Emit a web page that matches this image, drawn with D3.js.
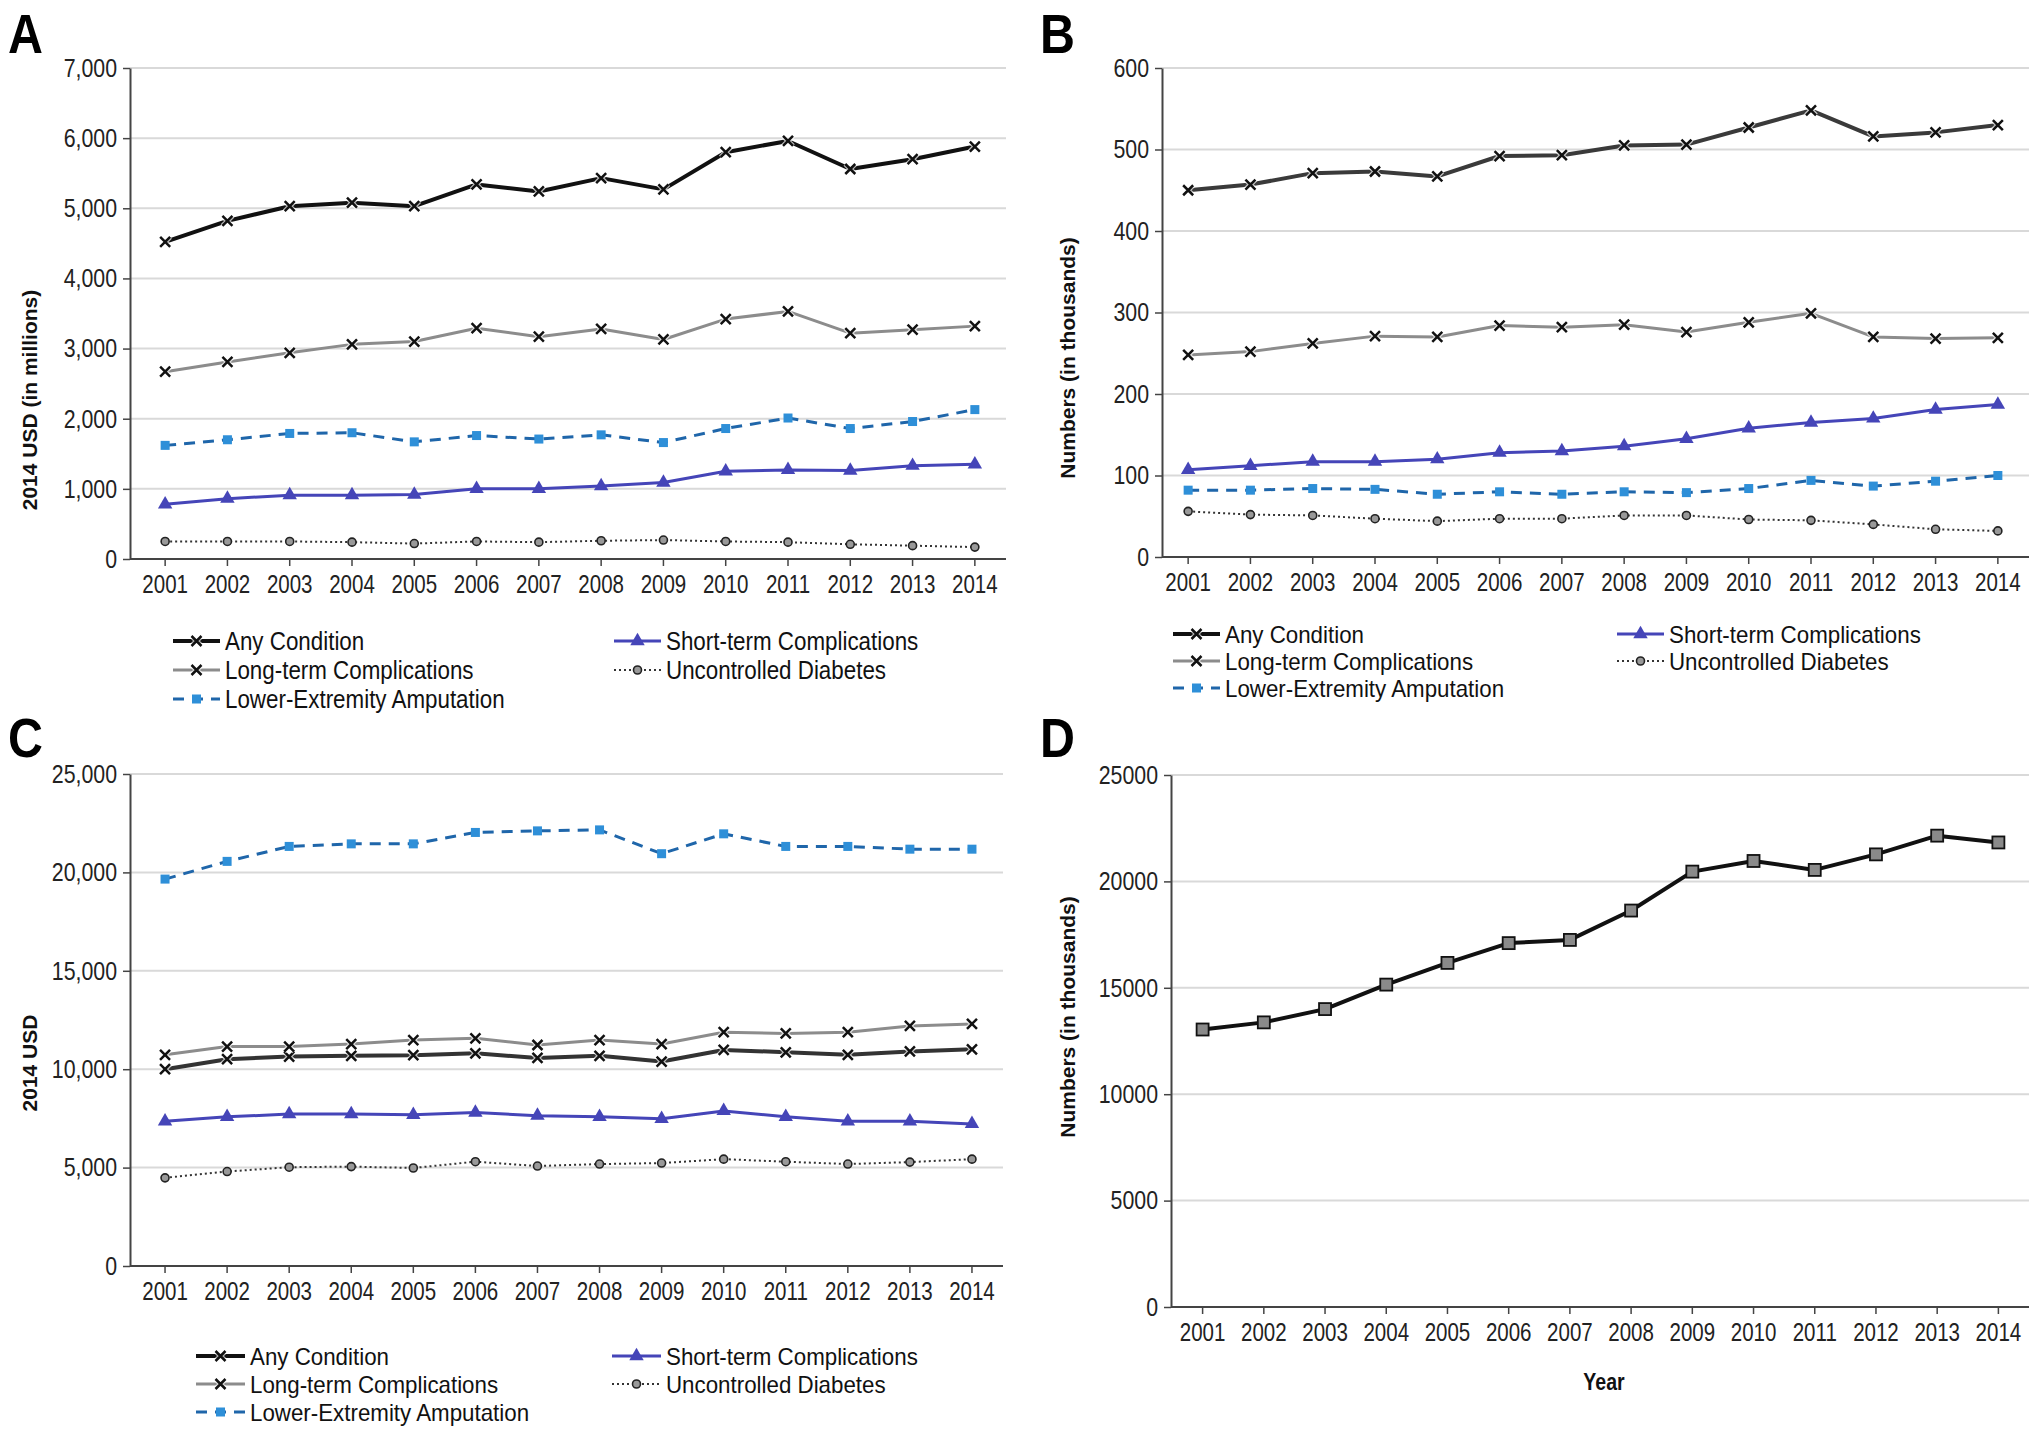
<!DOCTYPE html>
<html><head><meta charset="utf-8">
<script src="https://cdn.jsdelivr.net/npm/d3@7"></script>
<style>
html,body{margin:0;padding:0;background:#fff;}
svg{display:block;}
</style></head>
<body>
<svg id="chart" width="2040" height="1431"></svg>
<script>
// ---------- DATA ----------
const years = ["2001","2002","2003","2004","2005","2006","2007","2008","2009","2010","2011","2012","2013","2014"];
const seriesNames = ["Any Condition","Long-term Complications","Lower-Extremity Amputation","Short-term Complications","Uncontrolled Diabetes"];

// Panel A: 2014 USD (in millions)
const aAny   = [4520,4820,5030,5080,5030,5340,5240,5430,5270,5800,5960,5560,5700,5880];
const aLong  = [2670,2810,2940,3060,3100,3290,3170,3280,3130,3420,3530,3220,3270,3320];
const aLea   = [1620,1700,1790,1800,1670,1760,1710,1770,1660,1860,2010,1860,1960,2130];
const aShort = [780,860,910,910,920,1000,1000,1040,1090,1250,1270,1260,1330,1350];
const aUnc   = [250,250,250,240,220,250,240,260,270,250,240,210,190,170];
const aTicks = [0,1000,2000,3000,4000,5000,6000,7000];

// Panel B: Numbers (in thousands)
const bAny   = [450,457,471,473,467,492,493,505,506,527,548,516,521,530];
const bLong  = [248,252,262,271,270,284,282,285,276,288,299,270,268,269];
const bLea   = [82,82,84,83,77,80,77,80,79,84,94,87,93,100];
const bShort = [107,112,117,117,120,128,130,136,145,158,165,170,181,187];
const bUnc   = [56,52,51,47,44,47,47,51,51,46,45,40,34,32];
const bTicks = [0,100,200,300,400,500,600];

// Panel C: 2014 USD
const cAny   = [10000,10510,10640,10680,10710,10810,10570,10680,10390,10980,10860,10730,10900,11010];
const cLong  = [10730,11150,11150,11280,11480,11570,11230,11480,11280,11880,11820,11880,12200,12300];
const cLea   = [19660,20560,21320,21450,21450,22030,22110,22160,20950,21960,21320,21320,21180,21180];
const cShort = [7350,7580,7720,7720,7680,7800,7640,7580,7480,7880,7580,7350,7350,7220];
const cUnc   = [4480,4800,5020,5050,4980,5300,5080,5180,5230,5430,5300,5180,5280,5430];
const cTicks = [0,5000,10000,15000,20000,25000];

// Panel D: Numbers (in thousands)
const dTotal = [13040,13375,14000,15150,16170,17100,17250,18630,20460,20960,20540,21270,22150,21830];
const dTicks = [0,5000,10000,15000,20000,25000];

// ---------- STYLES ----------
const SANS = '"Liberation Sans",Arial,sans-serif';
const styles = {
  "Any Condition":            {color:"#111", width:4, dash:null, marker:"x"},
  "Long-term Complications":  {color:"#8c8c8c", width:3, dash:null, marker:"x"},
  "Lower-Extremity Amputation":{color:"#1f66aa", width:3, dash:"11,8", marker:"sq", mcolor:"#2e8fd8"},
  "Short-term Complications": {color:"#4545b8", width:3, dash:null, marker:"tri"},
  "Uncontrolled Diabetes":    {color:"#333", width:2, dash:"2,3", marker:"circ"}
};

const svg = d3.select("#chart");

// emulate a condensed typeface by compressing glyphs horizontally
function narrow(sel, f) {
  sel.each(function() {
    const w = this.getComputedTextLength();
    d3.select(this).attr("textLength", w * f).attr("lengthAdjust", "spacingAndGlyphs");
  });
}

function drawMarker(g, type, cx, cy, st) {
  if (type === "x") {
    const s = 5;
    g.append("path").attr("d", `M${cx-s},${cy-s}L${cx+s},${cy+s}M${cx-s},${cy+s}L${cx+s},${cy-s}`)
      .attr("stroke", "#fff").attr("stroke-width", 5).attr("opacity",0.7);
    g.append("path").attr("d", `M${cx-s},${cy-s}L${cx+s},${cy+s}M${cx-s},${cy+s}L${cx+s},${cy-s}`)
      .attr("stroke", "#111").attr("stroke-width", 2.5);
  } else if (type === "sq") {
    g.append("rect").attr("x", cx-4.5).attr("y", cy-4.5).attr("width", 9).attr("height", 9)
      .attr("fill", st.mcolor || st.color);
  } else if (type === "tri") {
    g.append("path").attr("d", d3.symbol().type(d3.symbolTriangle).size(90)())
      .attr("transform", `translate(${cx},${cy})`).attr("fill", st.color);
  } else if (type === "circ") {
    g.append("circle").attr("cx", cx).attr("cy", cy).attr("r", 4)
      .attr("fill", "#999").attr("stroke", "#222").attr("stroke-width", 1.6);
  } else if (type === "dsq") {
    g.append("rect").attr("x", cx-6).attr("y", cy-6).attr("width", 12).attr("height", 12)
      .attr("fill", "#8a8a8a").attr("stroke", "#111").attr("stroke-width", 1.8);
  }
}

function panel(cfg) {
  const x = d3.scaleBand().domain(years).range([cfg.x0, cfg.x1]).padding(0);
  const y = d3.scaleLinear().domain([0, cfg.max]).range([cfg.yb, cfg.yt]);
  const g = svg.append("g");
  const cx = d => x(d) + x.bandwidth()/2;

  // gridlines
  g.selectAll("line.grid").data(cfg.ticks.filter(t => t > 0)).enter().append("line")
    .attr("x1", cfg.axisX).attr("x2", cfg.x1).attr("y1", d => y(d)).attr("y2", d => y(d))
    .attr("stroke", "#d9d9d9").attr("stroke-width", 2);

  // y axis
  const ya = g.append("g").attr("transform", `translate(${cfg.axisX},0)`)
    .call(d3.axisLeft(y).tickValues(cfg.ticks).tickFormat(cfg.fmt).tickSize(7).tickSizeOuter(0).tickPadding(6));
  ya.select(".domain").attr("stroke", "#444").attr("stroke-width", 2);
  ya.selectAll(".tick line").attr("stroke", "#444").attr("stroke-width", 1.5);
  ya.selectAll(".tick text").style("font-size", "26px").style("font-family", SANS).attr("fill", "#222");
  narrow(ya.selectAll(".tick text"), 0.82);

  // x axis
  const xa = g.append("g").attr("transform", `translate(0,${cfg.yb})`)
    .call(d3.axisBottom(x).tickSize(7).tickSizeOuter(0).tickPadding(9));
  xa.select(".domain").attr("stroke", "#444").attr("stroke-width", 2)
    .attr("d", `M${cfg.axisX},0H${cfg.x1}`);
  xa.selectAll(".tick line").attr("stroke", "#444").attr("stroke-width", 1.5);
  xa.selectAll(".tick text").style("font-size", "25px").style("font-family", SANS).attr("fill", "#222");
  narrow(xa.selectAll(".tick text"), 0.82);

  // series lines
  const line = d3.line().x((d, i) => cx(years[i])).y(d => y(d));
  cfg.series.forEach(s => {
    const st = s.style;
    g.append("path").datum(s.values).attr("d", line)
      .attr("fill", "none").attr("stroke", st.color).attr("stroke-width", st.width)
      .attr("stroke-dasharray", st.dash).attr("stroke-linejoin", "round");
  });
  cfg.series.forEach(s => {
    const mg = g.append("g");
    s.values.forEach((v, i) => drawMarker(mg, s.style.marker, cx(years[i]), y(v), s.style));
  });

  // y title
  g.append("text").attr("transform", `translate(${cfg.titleX},${cfg.titleY}) rotate(-90)`)
    .attr("text-anchor", "middle").attr("dominant-baseline", "central")
    .style("font-family", SANS).style("font-weight", "bold").style("font-size", "21px").attr("fill", "#111")
    .text(cfg.title);

  // panel letter
  const lt = svg.append("text").attr("x", cfg.letterX).attr("y", cfg.letterY)
    .style("font-family", SANS).style("font-weight", "bold")
    .style("font-size", "55px").attr("fill", "#000").text(cfg.letter);
  narrow(lt, 0.88);

  // legend
  if (cfg.legend) {
    const L = cfg.legend;
    const items = [
      {name: seriesNames[0], col: 0, row: 0},
      {name: seriesNames[3], col: 1, row: 0},
      {name: seriesNames[1], col: 0, row: 1},
      {name: seriesNames[4], col: 1, row: 1},
      {name: seriesNames[2], col: 0, row: 2}
    ];
    items.forEach(it => {
      const st = styles[it.name];
      const lx0 = L.cols[it.col], lx1 = lx0 + L.len, ly = L.rows[it.row];
      const lg = svg.append("g");
      lg.append("line").attr("x1", lx0).attr("x2", lx1).attr("y1", ly).attr("y2", ly)
        .attr("stroke", st.color).attr("stroke-width", st.width).attr("stroke-dasharray", st.dash);
      drawMarker(lg, st.marker, (lx0 + lx1)/2, ly, st);
      const t = lg.append("text").attr("x", lx1 + 5).attr("y", ly).attr("dominant-baseline", "central")
        .style("font-family", SANS).style("font-size", L.fs + "px").attr("fill", "#111").text(it.name);
      narrow(t, L.nf);
    });
  }
}

const fmtComma = d3.format(",");
const fmtPlain = d3.format("d");

function mk(vals, st) {
  return seriesNames.map((n, i) => ({name: n, values: vals[i], style: (st || styles)[n]}));
}

panel({letter:"A", letterX:8, letterY:53, axisX:130, x0:134, x1:1006, yt:68, yb:559, max:7000,
  ticks:aTicks, fmt:fmtComma, title:"2014 USD (in millions)", titleX:29, titleY:400,
  series: mk([aAny, aLong, aLea, aShort, aUnc]),
  legend:{cols:[173, 614], len:47, rows:[641, 670, 699], fs:26, nf:0.86}});

const bStyles = Object.assign({}, styles, {"Any Condition": Object.assign({}, styles["Any Condition"], {color:"#3a3a3a"})});
panel({letter:"B", letterX:1040, letterY:53, axisX:1162, x0:1157, x1:2029, yt:68, yb:557, max:600,
  ticks:bTicks, fmt:fmtPlain, title:"Numbers (in thousands)", titleX:1067, titleY:358,
  series: mk([bAny, bLong, bLea, bShort, bUnc], bStyles),
  legend:{cols:[1173, 1617], len:47, rows:[634, 661, 688], fs:24, nf:0.93}});

const cStyles = Object.assign({}, styles, {"Any Condition": Object.assign({}, styles["Any Condition"], {color:"#333"})});
panel({letter:"C", letterX:8, letterY:757, axisX:130, x0:134, x1:1003, yt:774, yb:1266, max:25000,
  ticks:cTicks, fmt:fmtComma, title:"2014 USD", titleX:29, titleY:1063,
  series: mk([cAny, cLong, cLea, cShort, cUnc], cStyles),
  legend:{cols:[196, 612], len:49, rows:[1356, 1384, 1412], fs:24, nf:0.93}});

panel({letter:"D", letterX:1040, letterY:757, axisX:1171, x0:1172, x1:2029, yt:775, yb:1307, max:25000,
  ticks:dTicks, fmt:fmtPlain, title:"Numbers (in thousands)", titleX:1067, titleY:1017,
  series: [{name:"Total", values:dTotal, style:{color:"#111", width:4, dash:null, marker:"dsq"}}]});

const yr = svg.append("text").attr("x", 1604).attr("y", 1382).attr("text-anchor", "middle").attr("dominant-baseline", "central")
  .style("font-family", SANS).style("font-weight", "bold").style("font-size", "23px").attr("fill", "#111").text("Year");
narrow(yr, 0.85);
</script>
</body></html>
